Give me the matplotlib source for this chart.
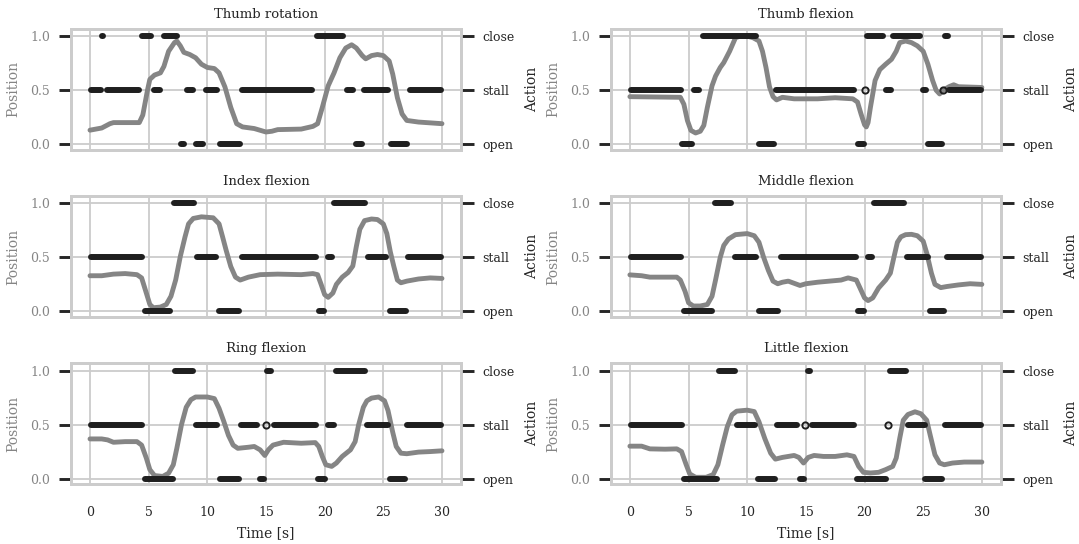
import matplotlib.pyplot as plt

plt.rcParams['font.family'] = 'DejaVu Serif'

# ---- data (time in s, position 0..1, action segments as [start, end]) ----
titles = ['Thumb rotation', 'Thumb flexion', 'Index flexion',
          'Middle flexion', 'Ring flexion', 'Little flexion']
action_names = ['open', 'stall', 'close']

thumb_rot_t = [0, 1, 1.7, 2, 4.2, 4.5, 4.9, 5.1, 5.5, 6, 6.3, 6.7, 7.2, 7.4, 7.7, 8, 8.5, 9, 9.5, 10,
               10.6, 11, 11.5, 12, 12.5, 13, 14, 15, 15.5, 16, 18, 19, 19.4, 19.8, 20.3, 20.8, 21.3,
               21.8, 22.3, 22.7, 23.2, 23.5, 24, 24.5, 25, 25.5, 25.8, 26.2, 26.6, 27, 28, 30]
thumb_rot_pos = [0.13, 0.15, 0.19, 0.20, 0.20, 0.27, 0.50, 0.60, 0.64, 0.66, 0.72, 0.86, 0.94, 0.955,
                 0.91, 0.85, 0.83, 0.80, 0.74, 0.71, 0.70, 0.66, 0.53, 0.34, 0.19, 0.16, 0.145, 0.113,
                 0.12, 0.135, 0.14, 0.165, 0.19, 0.34, 0.54, 0.66, 0.80, 0.89, 0.92, 0.89, 0.82, 0.79,
                 0.82, 0.83, 0.82, 0.77, 0.65, 0.43, 0.28, 0.22, 0.205, 0.19]
thumb_rot_close = [[1.05, 1.15], [4.44, 5.21], [6.34, 7.4], [19.35, 21.58]]
thumb_rot_stall = [[0.1, 0.9], [1.43, 4.19], [5.46, 6.0], [8.24, 8.8], [9.85, 10.85],
                   [12.98, 18.95], [21.93, 22.4], [23.39, 25.38], [27.25, 29.9]]
thumb_rot_open = [[7.74, 7.99], [9.03, 9.65], [11.1, 12.75], [22.66, 23.2], [25.64, 27.0]]
thumb_rot_blips = []

thumb_flex_t = [0, 4.3, 4.6, 4.9, 5.2, 5.6, 6, 6.3, 6.6, 7, 7.3, 7.7, 8, 8.5, 9, 9.4, 10, 10.5, 11,
                11.3, 11.6, 11.9, 12.2, 12.5, 13, 14, 16, 17.5, 19, 19.4, 19.7, 20, 20.15, 20.3, 20.5,
                20.9, 21.3, 21.8, 22.3, 22.7, 23, 23.5, 24, 24.5, 25, 25.4, 25.8, 26.1, 26.4, 26.7,
                27.2, 27.6, 28, 30]
thumb_flex_pos = [0.44, 0.434, 0.37, 0.22, 0.128, 0.104, 0.12, 0.174, 0.34, 0.54, 0.63, 0.71, 0.755,
                  0.86, 0.985, 1.0, 1.0, 0.985, 0.955, 0.86, 0.71, 0.53, 0.44, 0.41, 0.434, 0.42, 0.42,
                  0.43, 0.42, 0.39, 0.28, 0.18, 0.16, 0.2, 0.34, 0.59, 0.69, 0.74, 0.786, 0.86, 0.94,
                  0.955, 0.94, 0.91, 0.86, 0.74, 0.59, 0.5, 0.465, 0.5, 0.532, 0.55, 0.532, 0.525]
thumb_flex_close = [[6.23, 10.78], [20.21, 21.56], [22.45, 24.76], [26.9, 27.1]]
thumb_flex_stall = [[0.1, 4.37], [5.5, 5.92], [12.43, 19.08], [21.81, 22.29], [25.0, 25.2],
                    [27.2, 29.9]]
thumb_flex_open = [[4.48, 5.33], [11.04, 12.24], [19.42, 19.96], [25.45, 26.6]]
thumb_flex_blips = [20.0, 26.7]

index_t = [0, 1, 2, 3, 4, 4.4, 4.8, 5.1, 5.4, 6, 6.5, 6.9, 7.3, 7.7, 8.1, 8.4, 8.8, 9.5, 10.5, 11,
           11.3, 11.6, 12, 12.4, 12.8, 13.5, 14.5, 16, 18, 19, 19.4, 19.7, 20, 20.3, 20.7, 21, 21.5,
           22, 22.4, 22.7, 23, 23.4, 24, 24.5, 25, 25.3, 25.6, 25.9, 26.2, 26.5, 27, 28, 29, 30]
index_pos = [0.33, 0.33, 0.345, 0.35, 0.34, 0.31, 0.17, 0.064, 0.034, 0.04, 0.064, 0.14, 0.29, 0.51,
             0.69, 0.81, 0.86, 0.875, 0.866, 0.81, 0.69, 0.567, 0.415, 0.317, 0.29, 0.317, 0.34,
             0.345, 0.34, 0.35, 0.34, 0.25, 0.155, 0.13, 0.17, 0.25, 0.317, 0.36, 0.42, 0.6, 0.76,
             0.84, 0.855, 0.85, 0.81, 0.72, 0.55, 0.415, 0.29, 0.265, 0.28, 0.30, 0.31, 0.305]
index_close = [[7.13, 8.86], [20.81, 23.48]]
index_stall = [[0.1, 4.42], [9.12, 10.76], [12.92, 19.24], [20.32, 20.62], [23.68, 25.24],
               [27.1, 29.9]]
index_open = [[4.67, 6.82], [10.96, 12.67], [19.5, 19.98], [25.55, 26.9]]
index_blips = []

middle_t = [0, 1, 1.7, 2.5, 4, 4.3, 4.7, 5, 5.4, 6, 6.6, 7, 7.3, 7.7, 8, 8.4, 9, 10, 10.6, 11, 11.4,
            11.8, 12.2, 12.6, 13, 13.5, 14, 14.5, 15, 16, 17, 18, 18.6, 19.3, 19.6, 20, 20.3, 20.7,
            21.2, 21.8, 22.2, 22.5, 22.8, 23.1, 23.5, 24, 24.5, 25, 25.3, 25.7, 26, 26.5, 27, 28,
            29, 30]
middle_pos = [0.338, 0.33, 0.317, 0.317, 0.317, 0.29, 0.186, 0.08, 0.05, 0.05, 0.064, 0.14, 0.29,
              0.5, 0.61, 0.67, 0.71, 0.72, 0.70, 0.64, 0.5, 0.38, 0.28, 0.256, 0.27, 0.28, 0.26,
              0.24, 0.256, 0.27, 0.28, 0.29, 0.31, 0.29, 0.22, 0.125, 0.1, 0.125, 0.217, 0.29,
              0.354, 0.5, 0.64, 0.69, 0.71, 0.713, 0.70, 0.65, 0.54, 0.354, 0.25, 0.22, 0.23, 0.245,
              0.256, 0.25]
middle_close = [[7.25, 8.66], [20.79, 23.39]]
middle_stall = [[0.1, 4.37], [9.0, 10.78], [12.87, 19.23], [20.3, 20.6], [23.62, 25.37],
                [27.0, 29.9]]
middle_open = [[4.63, 7.0], [10.98, 12.59], [19.48, 19.96], [25.6, 26.8]]
middle_blips = []

ring_t = [0, 1, 1.5, 2, 3, 4, 4.4, 4.8, 5.1, 5.5, 6.2, 6.7, 7.1, 7.4, 7.8, 8.2, 8.6, 9, 10, 10.6, 11,
          11.4, 11.8, 12.2, 12.6, 13.5, 14, 14.5, 14.9, 15.2, 15.6, 16.5, 18, 19.2, 19.5, 19.8, 20.1,
          20.6, 21, 21.5, 22.2, 22.6, 22.9, 23.3, 23.6, 24, 24.6, 25.1, 25.4, 25.8, 26.1, 26.5, 27,
          28, 29, 30]
ring_pos = [0.367, 0.367, 0.358, 0.336, 0.342, 0.342, 0.31, 0.19, 0.083, 0.028, 0.02, 0.05, 0.128,
            0.28, 0.5, 0.66, 0.73, 0.755, 0.755, 0.74, 0.65, 0.53, 0.40, 0.31, 0.28, 0.29, 0.297,
            0.266, 0.214, 0.266, 0.31, 0.336, 0.327, 0.333, 0.297, 0.205, 0.128, 0.113, 0.144,
            0.205, 0.266, 0.342, 0.5, 0.66, 0.72, 0.745, 0.755, 0.72, 0.63, 0.43, 0.297, 0.235,
            0.23, 0.245, 0.25, 0.257]
ring_close = [[7.22, 8.8], [15.05, 15.45], [20.96, 23.43]]
ring_stall = [[0.1, 4.42], [9.03, 10.85], [12.86, 14.27], [15.7, 19.24], [20.29, 20.79],
              [23.65, 25.38], [27.04, 29.9]]
ring_open = [[4.67, 7.05], [11.08, 12.67], [14.47, 14.86], [19.44, 20.03], [25.55, 26.85]]
ring_blips = [14.97]

little_t = [0, 1, 1.7, 3, 4, 4.4, 4.8, 5.1, 5.6, 6.5, 7.1, 7.5, 7.9, 8.3, 8.7, 9.1, 10, 10.6, 11,
            11.5, 12, 12.4, 13, 13.5, 14, 14.4, 14.8, 15.2, 15.7, 16.5, 17.5, 18.5, 19.1, 19.5,
            19.9, 20.5, 21.2, 21.8, 22.4, 22.7, 23, 23.3, 23.7, 24.3, 24.8, 25.3, 25.6, 26, 26.4,
            26.8, 27.5, 28.5, 30]
little_pos = [0.30, 0.30, 0.275, 0.272, 0.275, 0.25, 0.128, 0.043, 0.012, 0.012, 0.037, 0.128, 0.31,
              0.48, 0.59, 0.624, 0.633, 0.62, 0.526, 0.37, 0.235, 0.18, 0.196, 0.205, 0.214, 0.196,
              0.144, 0.196, 0.214, 0.205, 0.205, 0.22, 0.205, 0.113, 0.058, 0.052, 0.058, 0.083,
              0.113, 0.19, 0.373, 0.54, 0.593, 0.618, 0.60, 0.54, 0.40, 0.22, 0.144, 0.128, 0.144,
              0.153, 0.153]
little_close = [[7.6, 8.95], [15.2, 15.35], [22.16, 23.51]]
little_stall = [[0.1, 4.47], [9.14, 10.69], [12.58, 14.28], [15.55, 19.14], [23.7, 25.14],
                [26.82, 29.9]]
little_open = [[4.63, 7.43], [10.89, 12.38], [14.5, 14.86], [19.34, 21.79], [25.16, 26.6]]
little_blips = [14.94, 21.96]

panels = [
    (thumb_rot_t, thumb_rot_pos, thumb_rot_open, thumb_rot_stall, thumb_rot_close, thumb_rot_blips),
    (thumb_flex_t, thumb_flex_pos, thumb_flex_open, thumb_flex_stall, thumb_flex_close, thumb_flex_blips),
    (index_t, index_pos, index_open, index_stall, index_close, index_blips),
    (middle_t, middle_pos, middle_open, middle_stall, middle_close, middle_blips),
    (ring_t, ring_pos, ring_open, ring_stall, ring_close, ring_blips),
    (little_t, little_pos, little_open, little_stall, little_close, little_blips),
]

gray = '#858585'
dark = '#1f1f1f'
text = '#262626'
light = '#cccccc'

fig, axes = plt.subplots(3, 2, figsize=(10.79, 5.44), dpi=100, sharex=True)
fig.subplots_adjust(left=0.0658, right=0.9277, top=0.9467, bottom=0.1103,
                    wspace=0.384, hspace=0.386)

for i, (ax, (t, pos, op, st, cl, blips)) in enumerate(zip(axes.flat, panels)):
    ax.plot(t, pos, color=gray, lw=3.5, solid_capstyle='round', solid_joinstyle='round', zorder=3)
    ax.set_xlim(-1.62, 31.63)
    ax.set_ylim(-0.05, 1.066)
    ax.set_yticks([0, 0.5, 1.0])
    ax.set_xticks(range(0, 31, 5))
    ax.set_axisbelow(True)
    ax.grid(True, color=light, lw=1.3)
    ax.set_title(titles[i], fontsize=9.5, color=text, pad=8)
    ax.set_ylabel('Position', color=gray, fontsize=10, labelpad=7)
    ax.tick_params(axis='y', length=9, width=2.1, color=text, labelcolor=gray,
                   labelsize=9, pad=6)
    ax.tick_params(axis='x', length=0, labelsize=9, labelcolor=text, pad=16)

    ax2 = ax.twinx()
    for level, segs in zip([0.0, 0.5, 1.0], [op, st, cl]):
        for s, e in segs:
            ax2.plot([s, e], [level, level], color=dark, lw=4.3, solid_capstyle='round')
    if blips:
        ax2.plot(blips, [0.5] * len(blips), 'o', mfc='none', mec=dark, ms=4.5, mew=1.4)
    ax2.set_ylim(-0.05, 1.066)
    ax2.set_yticks([0, 0.5, 1.0])
    ax2.set_yticklabels(action_names)
    ax2.grid(False)
    ax2.set_ylabel('Action', color=text, fontsize=10, labelpad=7)
    ax2.tick_params(axis='y', length=9, width=2.1, color=text, labelcolor=text,
                    labelsize=9, pad=6.5)

    for a in (ax, ax2):
        for sp in a.spines.values():
            sp.set_color(light)
            sp.set_linewidth(2)

    if i >= 4:
        ax.set_xlabel('Time [s]', fontsize=10, color=text, labelpad=5)

fig.savefig('out.png', dpi=100)
